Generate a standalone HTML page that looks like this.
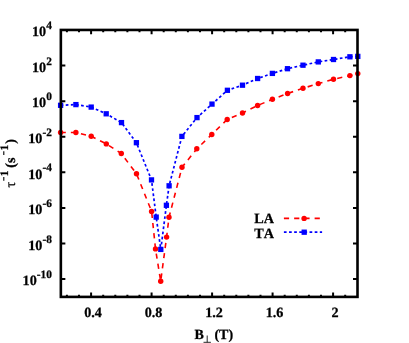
<!DOCTYPE html>
<html><head><meta charset="utf-8"><title>chart</title>
<style>
html,body{margin:0;padding:0;background:#fff;}
svg{display:block;will-change:transform;}
text{font-family:"Liberation Serif",serif;font-weight:bold;fill:#000;stroke:#000;stroke-width:0.25px;font-kerning:none;text-rendering:geometricPrecision;}
</style></head><body>
<svg width="409" height="343" viewBox="0 0 409 343">
<rect x="0" y="0" width="409" height="343" fill="#fff"/>
<polyline points="60.6,132.5 75.9,132.5 91.2,136.2 106.3,143.9 121.3,153.5 136.5,173.8 151.6,211.4 155.5,248.9 160.7,281.2 166.6,237.1 169.0,217.3 182.0,167.3 196.8,148.8 211.8,134.5 227.2,119.5 242.5,113.0 257.6,105.5 272.4,99.3 287.6,93.5 303.0,88.3 318.3,83.6 333.5,79.3 349.9,75.6 357.8,73.6" fill="none" stroke="#f00" stroke-width="1.6" stroke-dasharray="5.2 5.04" stroke-linejoin="round"/>
<polyline points="60.6,105.3 75.9,104.6 91.2,107.1 106.2,113.8 121.5,122.6 136.4,142.7 151.5,179.9 156.2,217.1 160.8,249.4 166.4,205.3 169.1,185.8 181.9,136.4 197.0,117.6 212.0,104.1 227.4,90.3 242.5,85.2 257.6,78.5 272.4,73.4 287.5,68.7 303.0,65.2 318.3,61.9 333.5,59.5 349.9,56.8 357.8,56.4" fill="none" stroke="#00f" stroke-width="1.7" stroke-dasharray="2.7 2.43" stroke-linejoin="round"/>
<circle cx="60.6" cy="132.5" r="2.7" fill="#f00"/><circle cx="75.9" cy="132.5" r="2.7" fill="#f00"/><circle cx="91.2" cy="136.2" r="2.7" fill="#f00"/><circle cx="106.3" cy="143.9" r="2.7" fill="#f00"/><circle cx="121.3" cy="153.5" r="2.7" fill="#f00"/><circle cx="136.5" cy="173.8" r="2.7" fill="#f00"/><circle cx="151.6" cy="211.4" r="2.7" fill="#f00"/><circle cx="155.5" cy="248.9" r="2.7" fill="#f00"/><circle cx="160.7" cy="281.2" r="2.7" fill="#f00"/><circle cx="166.6" cy="237.1" r="2.7" fill="#f00"/><circle cx="169.0" cy="217.3" r="2.7" fill="#f00"/><circle cx="182.0" cy="167.3" r="2.7" fill="#f00"/><circle cx="196.8" cy="148.8" r="2.7" fill="#f00"/><circle cx="211.8" cy="134.5" r="2.7" fill="#f00"/><circle cx="227.2" cy="119.5" r="2.7" fill="#f00"/><circle cx="242.5" cy="113.0" r="2.7" fill="#f00"/><circle cx="257.6" cy="105.5" r="2.7" fill="#f00"/><circle cx="272.4" cy="99.3" r="2.7" fill="#f00"/><circle cx="287.6" cy="93.5" r="2.7" fill="#f00"/><circle cx="303.0" cy="88.3" r="2.7" fill="#f00"/><circle cx="318.3" cy="83.6" r="2.7" fill="#f00"/><circle cx="333.5" cy="79.3" r="2.7" fill="#f00"/><circle cx="349.9" cy="75.6" r="2.7" fill="#f00"/><circle cx="357.8" cy="73.6" r="2.7" fill="#f00"/>
<rect x="57.95" y="102.65" width="5.3" height="5.3" fill="#00f"/><rect x="73.25" y="101.95" width="5.3" height="5.3" fill="#00f"/><rect x="88.55" y="104.45" width="5.3" height="5.3" fill="#00f"/><rect x="103.55" y="111.15" width="5.3" height="5.3" fill="#00f"/><rect x="118.85" y="119.95" width="5.3" height="5.3" fill="#00f"/><rect x="133.75" y="140.05" width="5.3" height="5.3" fill="#00f"/><rect x="148.85" y="177.25" width="5.3" height="5.3" fill="#00f"/><rect x="153.55" y="214.45" width="5.3" height="5.3" fill="#00f"/><rect x="158.15" y="246.75" width="5.3" height="5.3" fill="#00f"/><rect x="163.75" y="202.65" width="5.3" height="5.3" fill="#00f"/><rect x="166.45" y="183.15" width="5.3" height="5.3" fill="#00f"/><rect x="179.25" y="133.75" width="5.3" height="5.3" fill="#00f"/><rect x="194.35" y="114.95" width="5.3" height="5.3" fill="#00f"/><rect x="209.35" y="101.45" width="5.3" height="5.3" fill="#00f"/><rect x="224.75" y="87.65" width="5.3" height="5.3" fill="#00f"/><rect x="239.85" y="82.55" width="5.3" height="5.3" fill="#00f"/><rect x="254.95" y="75.85" width="5.3" height="5.3" fill="#00f"/><rect x="269.75" y="70.75" width="5.3" height="5.3" fill="#00f"/><rect x="284.85" y="66.05" width="5.3" height="5.3" fill="#00f"/><rect x="300.35" y="62.55" width="5.3" height="5.3" fill="#00f"/><rect x="315.65" y="59.25" width="5.3" height="5.3" fill="#00f"/><rect x="330.85" y="56.85" width="5.3" height="5.3" fill="#00f"/><rect x="347.25" y="54.15" width="5.3" height="5.3" fill="#00f"/><rect x="355.15" y="53.75" width="5.3" height="5.3" fill="#00f"/>
<line x1="283.9" y1="218.4" x2="322" y2="218.4" stroke="#f00" stroke-width="1.6" stroke-dasharray="5.2 5.04"/>
<circle cx="304.1" cy="218.4" r="2.7" fill="#f00"/>
<line x1="283.9" y1="232.2" x2="322.1" y2="232.2" stroke="#00f" stroke-width="1.7" stroke-dasharray="2.7 2.43"/>
<rect x="301.55" y="229.55" width="5.3" height="5.3" fill="#00f"/>
<path d="M66.89 296.9 v-2.2 M66.89 29.95 v2.2 M78.99 296.9 v-2.2 M78.99 29.95 v2.2 M91.09 296.9 v-4.3 M91.09 29.95 v4.3 M103.19 296.9 v-2.2 M103.19 29.95 v2.2 M115.29 296.9 v-2.2 M115.29 29.95 v2.2 M127.39 296.9 v-2.2 M127.39 29.95 v2.2 M139.49 296.9 v-2.2 M139.49 29.95 v2.2 M151.59 296.9 v-4.3 M151.59 29.95 v4.3 M163.69 296.9 v-2.2 M163.69 29.95 v2.2 M175.79 296.9 v-2.2 M175.79 29.95 v2.2 M187.89 296.9 v-2.2 M187.89 29.95 v2.2 M199.99 296.9 v-2.2 M199.99 29.95 v2.2 M212.09 296.9 v-4.3 M212.09 29.95 v4.3 M224.19 296.9 v-2.2 M224.19 29.95 v2.2 M236.29 296.9 v-2.2 M236.29 29.95 v2.2 M248.39 296.9 v-2.2 M248.39 29.95 v2.2 M260.49 296.9 v-2.2 M260.49 29.95 v2.2 M272.59 296.9 v-4.3 M272.59 29.95 v4.3 M284.69 296.9 v-2.2 M284.69 29.95 v2.2 M296.79 296.9 v-2.2 M296.79 29.95 v2.2 M308.89 296.9 v-2.2 M308.89 29.95 v2.2 M320.99 296.9 v-2.2 M320.99 29.95 v2.2 M333.09 296.9 v-4.3 M333.09 29.95 v4.3 M345.19 296.9 v-2.2 M345.19 29.95 v2.2 M60.85 279.11 h4.5 M357.5 279.11 h-4.5 M60.85 243.51 h4.5 M357.5 243.51 h-4.5 M60.85 207.92 h4.5 M357.5 207.92 h-4.5 M60.85 172.33 h4.5 M357.5 172.33 h-4.5 M60.85 136.73 h4.5 M357.5 136.73 h-4.5 M60.85 101.14 h4.5 M357.5 101.14 h-4.5 M60.85 65.54 h4.5 M357.5 65.54 h-4.5" stroke="#000" stroke-width="2.0" fill="none"/>
<rect x="60.85" y="29.95" width="296.65" height="266.95" fill="none" stroke="#000" stroke-width="2.6"/>
<text x="51.9" y="285.46" text-anchor="end" font-size="14.2"><tspan>10</tspan><tspan font-size="11.36" dy="-7.2">-10</tspan></text>
<text x="51.9" y="249.86" text-anchor="end" font-size="14.2"><tspan>10</tspan><tspan font-size="11.36" dy="-7.2">-8</tspan></text>
<text x="51.9" y="214.27" text-anchor="end" font-size="14.2"><tspan>10</tspan><tspan font-size="11.36" dy="-7.2">-6</tspan></text>
<text x="51.9" y="178.68" text-anchor="end" font-size="14.2"><tspan>10</tspan><tspan font-size="11.36" dy="-7.2">-4</tspan></text>
<text x="51.9" y="143.08" text-anchor="end" font-size="14.2"><tspan>10</tspan><tspan font-size="11.36" dy="-7.2">-2</tspan></text>
<text x="51.9" y="107.49" text-anchor="end" font-size="14.2"><tspan>10</tspan><tspan font-size="11.36" dy="-7.2">0</tspan></text>
<text x="51.9" y="71.89" text-anchor="end" font-size="14.2"><tspan>10</tspan><tspan font-size="11.36" dy="-7.2">2</tspan></text>
<text x="51.9" y="36.30" text-anchor="end" font-size="14.2"><tspan>10</tspan><tspan font-size="11.36" dy="-7.2">4</tspan></text>
<text x="93.09" y="316.8" text-anchor="middle" font-size="14.2">0.4</text>
<text x="153.59" y="316.8" text-anchor="middle" font-size="14.2">0.8</text>
<text x="214.09" y="316.8" text-anchor="middle" font-size="14.2">1.2</text>
<text x="274.59" y="316.8" text-anchor="middle" font-size="14.2">1.6</text>
<text x="335.09" y="316.8" text-anchor="middle" font-size="14.2">2</text>
<text x="254.3" y="223.4" font-size="14.2">LA</text>
<text x="254.3" y="237.7" font-size="14.2">TA</text>
<text x="194.5" y="338.6" font-size="14.0">B</text>
<path d="M207.2 335.5 V342.3 M203.5 342.3 H210.9" stroke="#000" stroke-width="0.85" fill="none"/>
<text x="214.4" y="338.6" font-size="14.0">(T)</text>
<g transform="translate(14.9,187.6) rotate(-90)">
<text x="0" y="0" font-size="14.2" style="font-weight:normal">&#964;</text>
<path d="M6.9 -11.1 H10.6 M32.6 -11.1 H36.3" stroke="#000" stroke-width="1.1" fill="none"/>
<text x="14.15" y="-6.6" text-anchor="middle" font-size="11.4">1</text>
<text x="19.9" y="0" font-size="14.2">(s</text>
<text x="39.85" y="-6.6" text-anchor="middle" font-size="11.4">1</text>
<text x="43.8" y="0" font-size="14.2">)</text>
</g>
</svg>
</body></html>
